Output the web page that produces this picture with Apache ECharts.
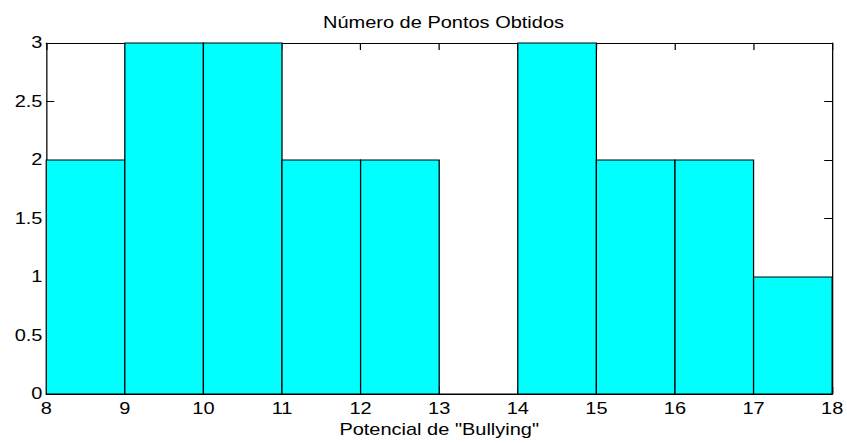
<!DOCTYPE html>
<html>
<head>
<meta charset="utf-8">
<script src="https://cdn.jsdelivr.net/npm/echarts@6/dist/echarts.min.js"></script>
<style>
  html, body { margin: 0; padding: 0; background: #fff; overflow: hidden; }
  #wrap { width: 847px; height: 443px; overflow: hidden; }
  /* the figure is laid out on a narrower canvas and widened horizontally */
  #chart { width: 678px; height: 443px; transform: scaleX(1.2493); transform-origin: 0 0; }
</style>
</head>
<body>
<div id="wrap"><div id="chart"></div></div>
<script>
// Histogram bins (left edges) and counts per bin of width 1
const binStarts = [8, 9, 10, 11, 12, 13, 14, 15, 16, 17];
const binWidth = 1;
const counts = [2, 3, 3, 2, 2, 0, 3, 2, 2, 1];

const xTicks = [8, 9, 10, 11, 12, 13, 14, 15, 16, 17, 18];
const yTicks = [0, 0.5, 1, 1.5, 2, 2.5, 3];

const titleText = 'Número de Pontos Obtidos';
const xLabel = 'Potencial de "Bullying"';

const FONT = "'Liberation Sans', Arial, Helvetica, sans-serif";

const chart = echarts.init(document.getElementById('chart'), null, { renderer: 'svg' });

const barData = binStarts.map((s, i) => [s, s + binWidth, counts[i]]);

const lineStyle = { color: '#000', width: 1 };

function xAxisCfg(pos, showLabels) {
  return {
    type: 'value',
    position: pos,
    min: xTicks[0],
    max: xTicks[xTicks.length - 1],
    interval: 1,
    axisLine: { show: true, onZero: false, lineStyle },
    axisTick: { show: true, inside: true, length: 7, lineStyle },
    axisLabel: {
      show: showLabels, margin: 7, color: '#000', fontSize: 16, fontFamily: FONT
    },
    splitLine: { show: false }
  };
}

function yAxisCfg(pos, showLabels) {
  return {
    type: 'value',
    position: pos,
    min: yTicks[0],
    max: yTicks[yTicks.length - 1],
    interval: 0.5,
    axisLine: { show: true, onZero: false, lineStyle },
    axisTick: { show: true, inside: true, length: 6.4, lineStyle },
    axisLabel: {
      show: showLabels, margin: 3, color: '#000', fontSize: 16, fontFamily: FONT
    },
    splitLine: { show: false }
  };
}

const xBottom = xAxisCfg('bottom', true);
xBottom.name = xLabel;
xBottom.nameLocation = 'middle';
xBottom.nameGap = 27;
xBottom.nameTextStyle = { color: '#000', fontSize: 16, fontFamily: FONT };

chart.setOption({
  animation: false,
  backgroundColor: '#fff',
  title: {
    text: titleText,
    left: 350,
    textAlign: 'center',
    top: 10,
    textStyle: { color: '#000', fontSize: 16, fontWeight: 'normal', fontFamily: FONT }
  },
  grid: { left: 37, right: 10.4, top: 43, bottom: 47, containLabel: false },
  xAxis: [xBottom, xAxisCfg('top', false)],
  yAxis: [yAxisCfg('left', true), yAxisCfg('right', false)],
  series: [{
    type: 'custom',
    xAxisIndex: 0,
    yAxisIndex: 0,
    data: barData,
    encode: { x: [0, 1], y: 2 },
    renderItem: function (params, api) {
      const p0 = api.coord([api.value(0), api.value(2)]);
      const p1 = api.coord([api.value(1), 0]);
      return {
        type: 'rect',
        shape: { x: p0[0], y: p0[1], width: p1[0] - p0[0], height: p1[1] - p0[1] },
        style: { fill: '#00FFFF', stroke: '#000', lineWidth: 1 }
      };
    }
  }]
});
</script>
</body>
</html>
